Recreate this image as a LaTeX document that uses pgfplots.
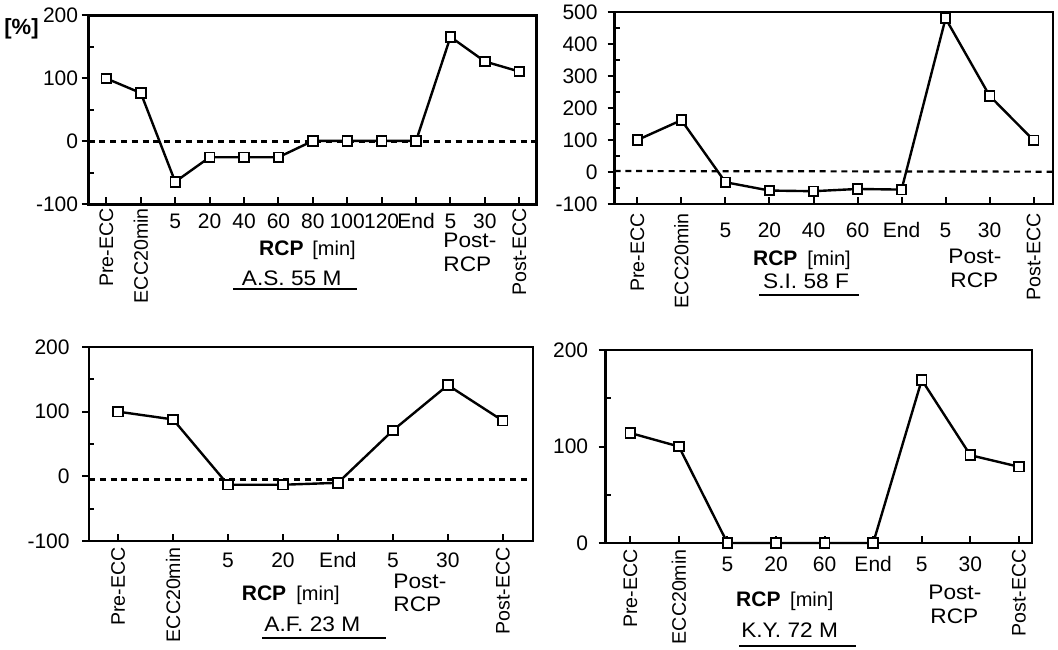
\documentclass[border=0pt]{standalone}
\usepackage{pgfplots}
\pgfplotsset{compat=1.18}
\usepackage{fontspec}
\setmainfont{Liberation Sans}
\newcommand\fs[1]{\fontsize{#1}{#1}\selectfont}
\newcommand\R[1]{\rotatebox{90}{\fs{9.8}#1}}
\newcommand\N[1]{\rule{0pt}{\numh}#1}
\newcommand\W[1]{\scalebox{1.08}[1]{#1}}
\def\numh{10pt}
\pgfplotsset{
  panel/.style={
    anchor=south west, scale only axis,
    axis line style={line width=1.3pt},
    tick pos=left, tick align=outside,
    major tick length=3.5pt, minor tick length=2.5pt,
    every tick/.style={black, line width=1pt},
    major x tick style={yshift=3.5pt},
    minor y tick style={xshift=2.5pt},
    x tick label style={font=\fs{10.5}, anchor=north, inner sep=0pt},
    y tick label style={font=\fs{10.5}, anchor=east, inner sep=0pt},
    clip=false,
  },
  dat/.style={black, line width=1.2pt, mark=square*, mark size=2.4pt,
    mark options={fill=white, line width=0.9pt, solid}},
  zl/.style={black, line width=1.1pt, dash pattern=on 3pt off 2.4pt},
}
\begin{document}
\begin{tikzpicture}
\useasboundingbox (0,0) rectangle (529pt,324.5pt);
\fill[white] (0,0) rectangle (529pt,324.5pt);

% Panel 1: A.S. 55 M
\def\numh{10.25pt}
\begin{axis}[panel, at={(44.25pt,222.25pt)}, width=224pt, height=94.5pt,
  xmin=-0.52, xmax=12.5, ymin=-100, ymax=200,
  xtick={0,...,12},
  xticklabels={\R{Pre-ECC},\R{ECC20min},\N{5},\N{20},\N{40},\N{60},\N{80},\N{100},\N{120},\N{End},\N{5},\N{30},\R{Post-ECC}},
  x tick label style={yshift=1.75pt},
  ytick={-100,0,100,200}, yticklabels={-100,0,100,200},
  minor ytick={-50,50,150},
  y tick label style={xshift=-1.5pt}]
\addplot[zl] coordinates {(-0.52,0) (12.5,0)};
\addplot[dat] coordinates {(0,100) (1,77) (2,-64) (3,-25) (4,-25) (5,-25) (6,1) (7,1) (8,1) (9,1) (10,166) (11,127) (12,111)};
\end{axis}

% Panel 2: S.I. 58 F
\def\numh{12pt}
\begin{axis}[panel, at={(307.25pt,222.5pt)}, width=219.25pt, height=96pt,
  xmin=-0.52, xmax=9.44, ymin=-100, ymax=500,
  xtick={0,...,9},
  xticklabels={\R{Pre-ECC},\R{ECC20min},\N{5},\N{20},\N{40},\N{60},\N{End},\N{5},\N{30},\R{Post-ECC}},
  x tick label style={yshift=-1pt},
  ytick={-100,0,100,200,300,400,500}, yticklabels={-100,0,100,200,300,400,500},
  minor ytick={-50,50,150,250,350,450},
  y tick label style={xshift=-4.75pt}]
\addplot[zl] coordinates {(-0.52,3) (9.44,1)};
\addplot[dat] coordinates {(0,100) (1,162) (2,-32) (3,-58) (4,-60) (5,-53) (6,-55) (7,480) (8,238) (9,99)};
\end{axis}

% Panel 3: A.F. 23 M
\def\numh{10pt}
\begin{axis}[panel, at={(44.5pt,54pt)}, width=222pt, height=97pt,
  xmin=-0.53, xmax=7.55, ymin=-100, ymax=200,
  xtick={0,...,7},
  xticklabels={\R{Pre-ECC},\R{ECC20min},\N{5},\N{20},\N{End},\N{5},\N{30},\R{Post-ECC}},
  x tick label style={yshift=0.5pt},
  ytick={-100,0,100,200}, yticklabels={-100,0,100,200},
  minor ytick={-50,50,150},
  y tick label style={xshift=-6pt}]
\addplot[zl] coordinates {(-0.53,-5) (7.55,-5)};
\addplot[dat] coordinates {(0,100) (1,88) (2,-13) (3,-13) (4,-10) (5,71) (6,141) (7,86)};
\end{axis}

% Panel 4: K.Y. 72 M
\def\numh{11pt}
\begin{axis}[panel, at={(302.75pt,53pt)}, width=213.25pt, height=96.5pt,
  xmin=-0.51, xmax=8.27, ymin=0, ymax=200,
  xtick={0,...,8},
  xticklabels={\R{Pre-ECC},\R{ECC20min},\N{5},\N{20},\N{60},\N{End},\N{5},\N{30},\R{Post-ECC}},
  x tick label style={yshift=0.5pt},
  ytick={0,100,200}, yticklabels={0,100,200},
  minor ytick={50,150},
  y tick label style={xshift=-5pt}]
\addplot[dat] coordinates {(0,114) (1,100) (2,0) (3,0) (4,0) (5,0) (6,169) (7,91) (8,79)};
\end{axis}

\begin{scope}[x=0.5pt, y=-0.5pt, shift={(0pt,324.5pt)}]
\node[anchor=base west, inner sep=0pt, font=\fs{11}\bfseries] at (4,35) {[\%]};
% panel 1
\node[anchor=base west, inner sep=0pt, font=\fs{10.5}\bfseries] at (258.8,255) {RCP};
\node[anchor=base west, inner sep=0pt, font=\fs{10}] at (312,255) {[min]};
\node[anchor=base west, inner sep=0pt, font=\fs{10.5}] at (241.5,285) {\W{A.S. 55 M}};
\draw[line width=1pt] (233,288.5) -- (357,288.5);
\node[anchor=base west, inner sep=0pt, font=\fs{10.5}] at (443,247) {\W{Post-}};
\node[anchor=base west, inner sep=0pt, font=\fs{10.5}] at (443,271) {\W{RCP}};
% panel 2
\node[anchor=base west, inner sep=0pt, font=\fs{10.5}\bfseries] at (752.7,265) {RCP};
\node[anchor=base west, inner sep=0pt, font=\fs{10}] at (807,265) {[min]};
\node[anchor=base west, inner sep=0pt, font=\fs{10.5}] at (762.8,288) {\W{S.I. 58 F}};
\draw[line width=1pt] (759,295) -- (859,295);
\node[anchor=base west, inner sep=0pt, font=\fs{10.5}] at (948,263) {\W{Post-}};
\node[anchor=base west, inner sep=0pt, font=\fs{10.5}] at (950,287) {\W{RCP}};
% panel 3
\node[anchor=base west, inner sep=0pt, font=\fs{10.5}\bfseries] at (241.5,600) {RCP};
\node[anchor=base west, inner sep=0pt, font=\fs{10}] at (296,600) {[min]};
\node[anchor=base west, inner sep=0pt, font=\fs{10.5}] at (264,631.7) {\W{A.F. 23 M}};
\draw[line width=1pt] (262,638) -- (386,638);
\node[anchor=base west, inner sep=0pt, font=\fs{10.5}] at (393,588) {\W{Post-}};
\node[anchor=base west, inner sep=0pt, font=\fs{10.5}] at (393,611.7) {\W{RCP}};
% panel 4
\node[anchor=base west, inner sep=0pt, font=\fs{10.5}\bfseries] at (735.8,606) {RCP};
\node[anchor=base west, inner sep=0pt, font=\fs{10}] at (789.8,606) {[min]};
\node[anchor=base west, inner sep=0pt, font=\fs{10.5}] at (740.9,637) {\W{K.Y. 72 M}};
\draw[line width=1pt] (739,646) -- (856,646);
\node[anchor=base west, inner sep=0pt, font=\fs{10.5}] at (928,599) {\W{Post-}};
\node[anchor=base west, inner sep=0pt, font=\fs{10.5}] at (930,623) {\W{RCP}};
\end{scope}
\end{tikzpicture}
\end{document}
